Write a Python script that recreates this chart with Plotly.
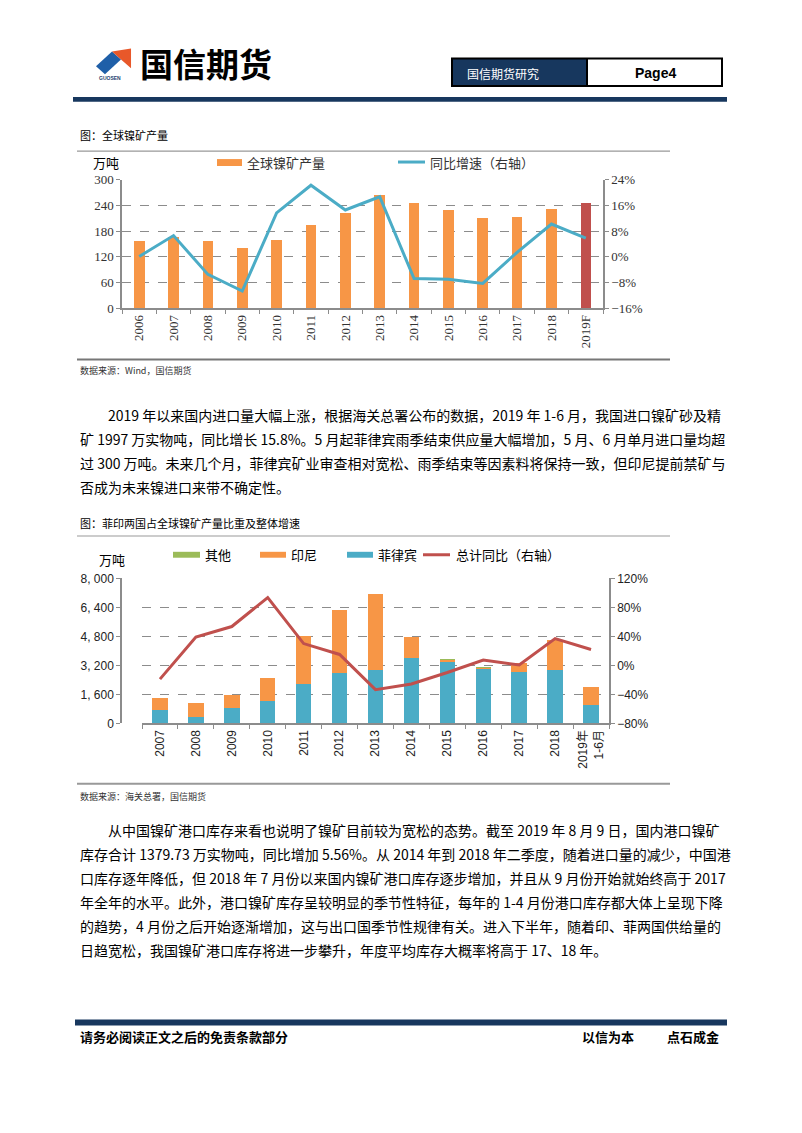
import plotly.graph_objects as go

W, H = 802, 1133
BODY = 8  # default page margin of the html body

# chart 1: global nickel ore output
years_1 = ["2006", "2007", "2008", "2009", "2010", "2011", "2012", "2013",
           "2014", "2015", "2016", "2017", "2018", "2019F"]
output_1 = [156, 166, 158, 141, 159, 195, 223, 264, 245, 229, 210, 212, 232, 245]
yoy_1 = [0.1, 6.6, -5.5, -10.7, 13.7, 22.3, 14.6, 18.7, -6.8, -7.0, -8.3, 1.4, 10.2, 5.8]

# chart 2: imports by origin
years_2 = ["2007", "2008", "2009", "2010", "2011", "2012", "2013",
           "2014", "2015", "2016", "2017", "2018", "2019年<br>1-6月"]
philippines = [761, 363, 834, 1215, 2175, 2774, 2955, 3626, 3408, 3009, 2864, 2937, 1033]
indonesia = [653, 779, 761, 1269, 2647, 3462, 4170, 1124, 73, 53, 454, 1650, 961]
others = [0, 0, 0, 0, 0, 0, 0, 0, 25, 25, 0, 0, 0]
total_yoy = [-18.8, 39.2, 53.7, 93.6, 30.2, 15.2, -33.3, -25.6, -9.7, 7.5, 0.7, 37.0, 22.0]

y3_tickvals = [0, 1600, 3200, 4800, 6400, 8000]
y3_ticktext = ["0", "1, 600", "3, 200", "4, 800", "6, 400", "8, 000"]

para_1 = [
    "2019 年以来国内进口量大幅上涨，根据海关总署公布的数据，2019 年 1-6 月，我国进口镍矿砂及精",
    "矿 1997 万实物吨，同比增长 15.8%。5 月起菲律宾雨季结束供应量大幅增加，5 月、6 月单月进口量均超",
    "过 300 万吨。未来几个月，菲律宾矿业审查相对宽松、雨季结束等因素料将保持一致，但印尼提前禁矿与",
    "否成为未来镍进口来带不确定性。",
]
para_2 = [
    "从中国镍矿港口库存来看也说明了镍矿目前较为宽松的态势。截至 2019 年 8 月 9 日，国内港口镍矿",
    "库存合计 1379.73 万实物吨，同比增加 5.56%。从 2014 年到 2018 年二季度，随着进口量的减少，中国港",
    "口库存逐年降低，但 2018 年 7 月份以来国内镍矿港口库存逐步增加，并且从 9 月份开始就始终高于 2017",
    "年全年的水平。此外，港口镍矿库存呈较明显的季节性特征，每年的 1-4 月份港口库存都大体上呈现下降",
    "的趋势，4 月份之后开始逐渐增加，这与出口国季节性规律有关。进入下半年，随着印、菲两国供给量的",
    "日趋宽松，我国镍矿港口库存将进一步攀升，年度平均库存大概率将高于 17、18 年。",
]

ORANGE = "#F79646"
RED = "#C0504D"
TEAL = "#4BACC6"
GREEN = "#9BBB59"
NAVY = "#17375E"
GRID = "#8C8C8C"
SERIF = "Liberation Serif, Times New Roman, Noto Sans CJK SC, serif"
SANS = "Liberation Sans, Arial, Noto Sans CJK SC, sans-serif"
CJK = "Noto Sans CJK SC, sans-serif"


def px(x):
    return (x - BODY) / W


def py(y):
    return 1 - (y - BODY) / H


fig = go.Figure()

bar_colors = [ORANGE] * (len(years_1) - 1) + [RED]
fig.add_trace(go.Bar(x=years_1, y=output_1, marker=dict(color=bar_colors, line=dict(width=0)),
                     width=0.31, xaxis="x", yaxis="y", showlegend=False))
fig.add_trace(go.Scatter(x=years_1, y=yoy_1, mode="lines", line=dict(color=TEAL, width=3),
                         xaxis="x", yaxis="y2", showlegend=False))

fig.add_trace(go.Bar(x=years_2, y=philippines, marker=dict(color=TEAL, line=dict(width=0)),
                     width=0.43, xaxis="x2", yaxis="y3", showlegend=False))
fig.add_trace(go.Bar(x=years_2, y=indonesia, marker=dict(color=ORANGE, line=dict(width=0)),
                     width=0.43, xaxis="x2", yaxis="y3", showlegend=False))
fig.add_trace(go.Bar(x=years_2, y=others, marker=dict(color=GREEN, line=dict(width=0)),
                     width=0.43, xaxis="x2", yaxis="y3", showlegend=False))
fig.add_trace(go.Scatter(x=years_2, y=total_yoy, mode="lines", line=dict(color=RED, width=3),
                         xaxis="x2", yaxis="y4", showlegend=False))

axis_common = dict(showline=True, linecolor=GRID, linewidth=1.5, ticks="outside",
                   tickcolor=GRID, ticklen=4, zeroline=False, fixedrange=True)

fig.update_layout(
    width=W, height=H,
    margin=dict(l=0, r=0, t=0, b=0),
    paper_bgcolor="white", plot_bgcolor="white",
    barmode="stack",
    showlegend=False,
    xaxis=dict(domain=[px(122), px(603)], anchor="y", tickangle=-90, tickson="boundaries",
               tickfont=dict(family=SERIF, size=13, color="#333"), showgrid=False, **axis_common),
    yaxis=dict(domain=[py(305), py(175)], range=[0, 300], dtick=60, showgrid=True,
               gridcolor=GRID, griddash="dash", gridwidth=1.2,
               tickfont=dict(family=SERIF, size=13, color="#333"), **axis_common),
    yaxis2=dict(overlaying="y", side="right", anchor="x", range=[-16, 24], dtick=8,
                ticksuffix="%", showgrid=False,
                tickfont=dict(family=SERIF, size=13, color="#333"), **axis_common),
    xaxis2=dict(domain=[px(142), px(609)], anchor="y3", tickangle=-90, tickson="boundaries",
                tickfont=dict(family=SANS, size=12, color="#222"), showgrid=False, **axis_common),
    yaxis3=dict(domain=[py(726), py(579)], range=[0, 8000], tickvals=y3_tickvals,
                ticktext=y3_ticktext, showgrid=True, gridcolor=GRID, griddash="dash", gridwidth=1.2,
                tickfont=dict(family=SANS, size=12, color="#222"), **axis_common),
    yaxis4=dict(overlaying="y3", side="right", anchor="x2", range=[-80, 120], dtick=40,
                ticksuffix="%", showgrid=False,
                tickfont=dict(family=SANS, size=12, color="#222"), **axis_common),
)

shapes = []
annotations = []


def text(x, y, s, size=12, family=CJK, color="black", xanchor="left"):
    annotations.append(dict(x=px(x), y=py(y), xref="paper", yref="paper", text=s,
                            showarrow=False, xanchor=xanchor, yanchor="middle",
                            font=dict(family=family, size=size, color=color)))


def rect(x0, y0, x1, y1, fill, line_color=None, line_width=0):
    shapes.append(dict(type="rect", xref="paper", yref="paper", x0=px(x0), x1=px(x1),
                       y0=py(y1), y1=py(y0), fillcolor=fill,
                       line=dict(color=line_color or fill, width=line_width)))


def hline(x0, x1, y, color, width):
    shapes.append(dict(type="line", xref="paper", yref="paper", x0=px(x0), x1=px(x1),
                       y0=py(y), y1=py(y), line=dict(color=color, width=width)))


def path(points, fill):
    d = "M " + " L ".join(f"{px(a):.4f},{py(b):.4f}" for a, b in points) + " Z"
    shapes.append(dict(type="path", xref="paper", yref="paper", path=d,
                       fillcolor=fill, line=dict(width=0)))


# header: logo
path([(96, 60), (112, 45), (121, 53), (105, 68)], "#1F5FA8")
path([(112, 45), (131, 42), (131, 62), (121, 53)], "#E8582A")
text(110, 72, "<b>GUOSEN</b>", size=5, family=SANS, color="#1F3F6F", xanchor="center")
text(138, 57, "<b>国信期货</b>", size=33)

# header box
rect(452, 52, 587, 80, NAVY)
rect(452, 52, 722, 80, "rgba(0,0,0,0)", "black", 2)
shapes.append(dict(type="line", xref="paper", yref="paper", x0=px(587), x1=px(587),
                   y0=py(52), y1=py(80), line=dict(color="black", width=2)))
text(465, 67, "国信期货研究", size=12, color="white")
text(655, 67, "<b>Page4</b>", size=14, family=SANS, xanchor="center")
rect(73, 91, 727, 96, NAVY)

# chart 1 frame and legend
text(78, 130, "图：全球镍矿产量", size=11)
hline(77, 670, 146, "#999999", 1.2)
hline(77, 670, 357, "#777777", 2)
text(106, 157, "万吨", size=13, xanchor="center")
rect(217, 154, 242, 161, ORANGE)
text(245, 157, "全球镍矿产量", size=13, color="#333")
hline(398, 425, 157, TEAL, 3)
text(428, 157, "同比增速（右轴）", size=13, color="#333")
text(78, 368, "数据来源：Wind，国信期货", size=9, color="#333")

# paragraph 1
text(106, 413, para_1[0], size=14)
for i, line in enumerate(para_1[1:], start=1):
    text(78, 413 + 24.6 * i, line, size=14)

# chart 2 frame and legend
text(78, 523, "图：菲印两国占全球镍矿产量比重及整体增速", size=11)
hline(77, 670, 536, "#999999", 1.2)
hline(77, 670, 787, "#999999", 2)
text(112, 560, "万吨", size=13, xanchor="center")
rect(173, 552, 200, 558, GREEN)
text(203, 555, "其他", size=13)
rect(260, 552, 286, 558, ORANGE)
text(289, 555, "印尼", size=13)
rect(347, 552, 373, 558, TEAL)
text(376, 555, "菲律宾", size=13)
hline(423, 450, 555, RED, 3)
text(454, 555, "总计同比（右轴）", size=13)
text(78, 800, "数据来源：海关总署，国信期货", size=9, color="#333")

# paragraph 2
text(106, 834, para_2[0], size=14)
for i, line in enumerate(para_2[1:], start=1):
    text(78, 834 + 24.3 * i, line, size=14)

# footer
rect(75, 1026, 727, 1032, NAVY)
text(78, 1043, "<b>请务必阅读正文之后的免责条款部分</b>", size=13)
text(580, 1043, "<b>以信为本</b>", size=13)
text(665, 1043, "<b>点石成金</b>", size=13)

fig.update_layout(shapes=shapes, annotations=annotations)

fig.write_html("out.html")
